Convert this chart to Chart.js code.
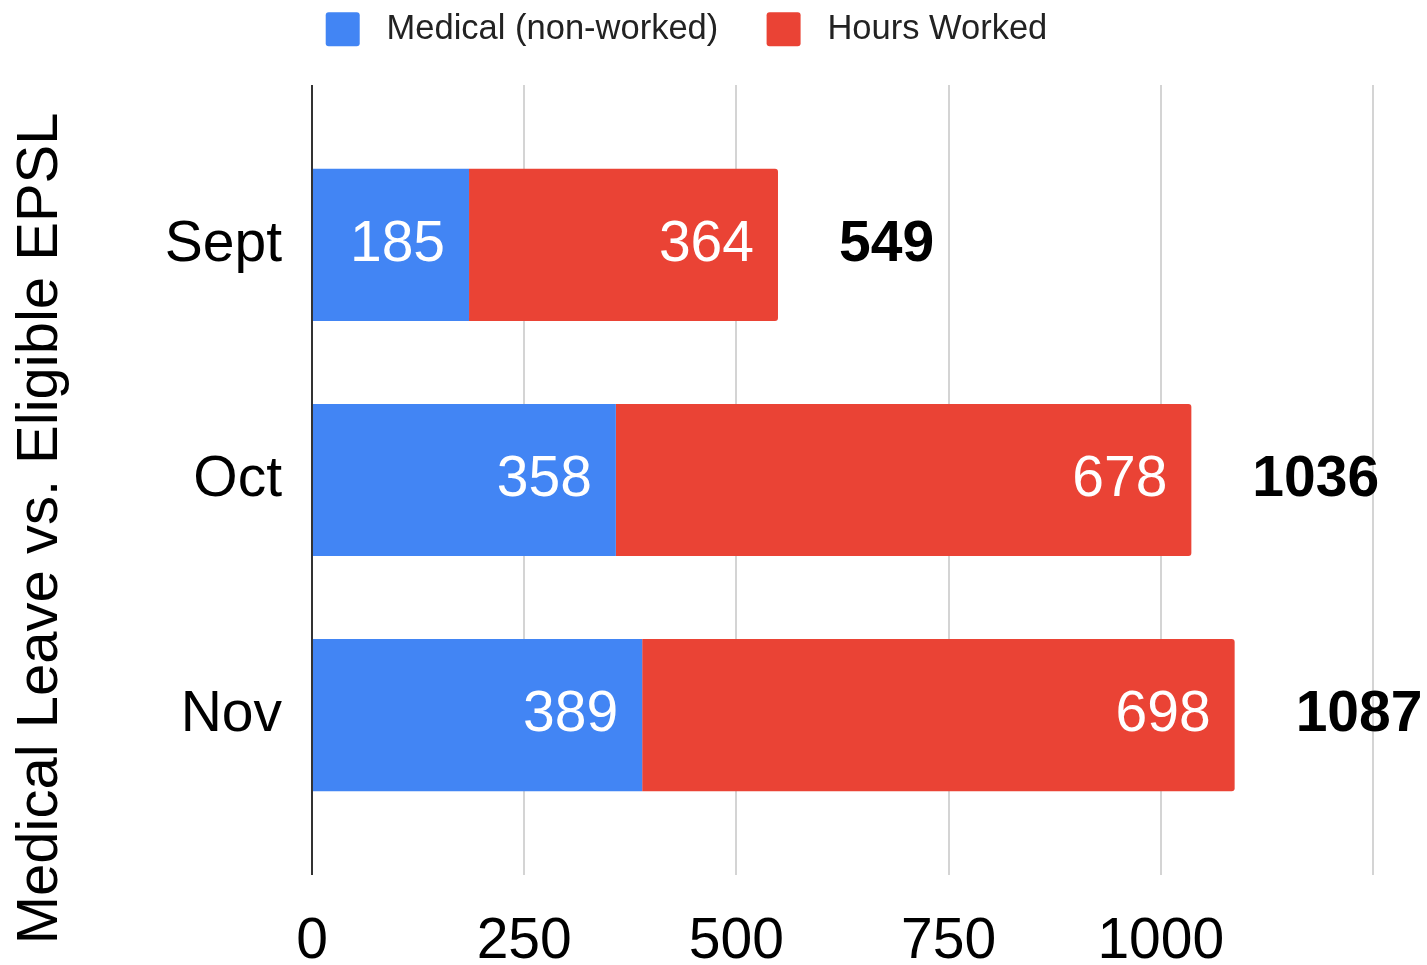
<!DOCTYPE html>
<html>
<head>
<meta charset="utf-8">
<title>Medical Leave vs. Eligible EPSL</title>
<script src="https://cdn.jsdelivr.net/npm/chart.js@4.4.0/dist/chart.umd.min.js"></script>
<style>
  html, body { margin: 0; padding: 0; background: #fff; }
  #wrap { width: 1427px; height: 965px; position: relative; }
</style>
</head>
<body>
<div id="wrap"><canvas id="myChart"></canvas></div>
<script>
const months = ['Sept', 'Oct', 'Nov'];
const medical = [185, 358, 389];
const worked = [364, 678, 698];
const xTicks = [0, 250, 500, 750, 1000, 1250];
const seriesNames = ['Medical (non-worked)', 'Hours Worked'];
const seriesColors = ['#4285F4', '#EA4335'];
const yTitle = 'Medical Leave vs. Eligible EPSL';

const totals = months.map((m, i) => medical[i] + worked[i]);
const fontFamily = '"Liberation Sans", Arial, sans-serif';

Chart.defaults.font.family = fontFamily;
Chart.defaults.color = '#000';

// y is a linear index axis so the bars can sit where the original has them
const toPoints = (values) => values.map((v, i) => ({x: v, y: i}));

// values inside the bars + bold totals after each bar
const barLabels = {
  id: 'barLabels',
  afterDatasetsDraw(chart) {
    const ctx = chart.ctx;
    ctx.save();
    ctx.textBaseline = 'middle';
    chart.data.datasets.forEach((ds, d) => {
      chart.getDatasetMeta(d).data.forEach((bar, i) => {
        ctx.font = '57px ' + fontFamily;
        ctx.fillStyle = '#fff';
        ctx.textAlign = 'right';
        ctx.fillText(ds.data[i].x, bar.x - 24, bar.y);
      });
    });
    const last = chart.getDatasetMeta(chart.data.datasets.length - 1);
    last.data.forEach((bar, i) => {
      ctx.font = 'bold 57px ' + fontFamily;
      ctx.fillStyle = '#000';
      ctx.textAlign = 'left';
      ctx.fillText(totals[i], bar.x + 61, bar.y);
    });
    ctx.restore();
  }
};

// more room under the legend
const legendSpace = {
  id: 'legendSpace',
  beforeInit(chart) {
    const fit = chart.legend.fit;
    chart.legend.fit = function () {
      fit.bind(chart.legend)();
      this.height = 83;
    };
  }
};

new Chart(document.getElementById('myChart'), {
  type: 'bar',
  data: {
    datasets: [
      { label: seriesNames[0], data: toPoints(medical), backgroundColor: seriesColors[0] },
      { label: seriesNames[1], data: toPoints(worked), backgroundColor: seriesColors[1], borderRadius: 3 }
    ]
  },
  options: {
    indexAxis: 'y',
    responsive: true,
    maintainAspectRatio: false,
    animation: false,
    categoryPercentage: 1,
    barPercentage: 0.647,
    layout: { padding: { top: 2, right: 54, bottom: 0, left: 0 } },
    scales: {
      x: {
        type: 'linear',
        stacked: true,
        min: 0,
        max: 1250,
        afterBuildTicks: (scale) => { scale.ticks = xTicks.map(v => ({value: v})); },
        afterFit: (scale) => { scale.height = 90; },
        border: { display: false },
        grid: {
          drawTicks: false,
          lineWidth: 2,
          color: (c) => (c.tick && c.tick.value === 0) ? '#333' : '#d4d4d4'
        },
        ticks: {
          padding: 33,
          font: { size: 57 },
          color: '#000',
          maxRotation: 0,
          autoSkip: false,
          callback: (v) => v > 1000 ? '' : v
        }
      },
      y: {
        type: 'linear',
        stacked: true,
        reverse: true,
        offset: false,
        min: -0.68,
        max: 2.68,
        afterBuildTicks: (scale) => { scale.ticks = months.map((m, i) => ({value: i})); },
        afterFit: (scale) => { scale.width = 312; },
        border: { display: false },
        grid: { display: false, drawTicks: false, offset: false },
        ticks: {
          padding: 30,
          font: { size: 57 },
          color: '#000',
          callback: (v) => months[v]
        },
        title: {
          display: true,
          // trailing spaces push the centred title down like in the original
          text: yTitle + '      ',
          font: { size: 58 },
          color: '#000',
          padding: { top: 6, bottom: 0 }
        }
      }
    },
    plugins: {
      legend: {
        position: 'top',
        labels: {
          boxWidth: 34,
          boxHeight: 34,
          padding: 10,
          color: '#222',
          useBorderRadius: true,
          borderRadius: 3,
          font: { size: 34.5 },
          generateLabels(chart) {
            const items = Chart.defaults.plugins.legend.labels.generateLabels(chart);
            items.forEach((it, i) => {
              it.text = ' ' + it.text + (i < items.length - 1 ? '    ' : '');
            });
            return items;
          }
        }
      },
      tooltip: { enabled: false }
    }
  },
  plugins: [legendSpace, barLabels]
});
</script>
</body>
</html>
